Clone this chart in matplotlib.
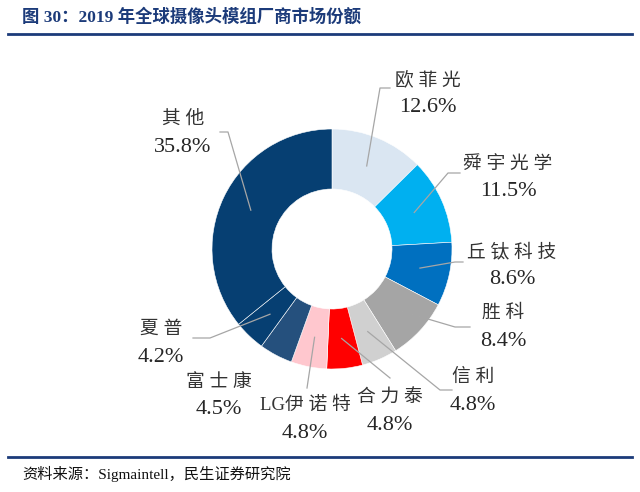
import matplotlib.pyplot as plt
import numpy as np

# market share, clockwise from 12 o'clock
vendors = ["欧菲光", "舜宇光学", "丘钛科技", "胜科", "信利", "合力泰",
           "LG伊诺特", "富士康", "夏普", "其他"]
shares = [12.6, 11.5, 8.6, 8.4, 4.8, 4.8, 4.8, 4.5, 4.2, 35.8]
colors = ["#DAE6F2", "#00B0F0", "#0070C0", "#A5A5A5", "#D0D0D0", "#FF0000",
          "#FFC7CE", "#25507D", "#063F72", "#063F72"]

# label text centre (pixels from top-left) and leader elbow / end points
label_pos = {
    "欧菲光": (428, 94), "舜宇光学": (508, 178), "丘钛科技": (512, 266),
    "胜科": (503, 327), "信利": (473, 391), "合力泰": (390, 411),
    "LG伊诺特": (305, 419), "富士康": (219, 396), "夏普": (161, 343),
    "其他": (183, 133),
}
leader = {
    "欧菲光": [(380, 88), (390, 88)], "舜宇光学": [(448, 173), (460, 173)],
    "丘钛科技": [(455, 262), (463, 262)], "胜科": [(455, 327), (470, 327)],
    "信利": [(440, 390), (452, 390)], "合力泰": [(390, 378)],
    "LG伊诺特": [(307, 388)], "夏普": [(210, 338), (193, 338)],
    "其他": [(228, 132), (220, 132)],
}

W, H = 640, 492
CX, CY, R = 332, 249, 120
FONT = ["Liberation Serif", "Noto Sans CJK SC"]


def spaced(name):
    # loose CJK tracking like the original serif font
    out = ""
    for i, ch in enumerate(name):
        if i and ord(ch) > 0x2E80 and ord(name[i - 1]) > 0x2E80:
            out += " "
        out += ch
    return out


fig = plt.figure(figsize=(6.4, 4.92), dpi=100)
ax = fig.add_axes([0, 0, 1, 1])

wedges, _ = ax.pie(
    shares, colors=colors, startangle=90, counterclock=False,
    center=(CX, H - CY), radius=R, frame=True,
    wedgeprops=dict(width=R * 0.5, edgecolor="white", linewidth=0.4),
)
ax.set_xlim(0, W)
ax.set_ylim(0, H)
ax.set_aspect("equal")
ax.axis("off")

for w, name, val in zip(wedges, vendors, shares):
    mid = np.deg2rad((w.theta1 + w.theta2) / 2)
    sx = CX + 0.75 * R * np.cos(mid)
    sy = CY - 0.75 * R * np.sin(mid)
    if name in leader:
        pts = [(sx, sy)] + leader[name]
        xs = [p[0] for p in pts]
        ys = [H - p[1] for p in pts]
        ax.plot(xs, ys, color="#A6A6A6", lw=0.9, zorder=3)
    tx, ty = label_pos[name]
    ax.text(tx, H - (ty - 14), spaced(name), ha="center", va="center",
            fontsize=13.5, family=FONT, color="#333333")
    ax.text(tx, H - (ty + 14), f"{val:.1f}%", ha="center", va="center",
            fontsize=16, family=FONT, color="#262626")

fig.text(22 / W, 1 - 17 / H, "图 30：2019 年全球摄像头模组厂商市场份额",
         family=FONT, fontsize=12.5, fontweight="bold", color="#1C3B7A",
         ha="left", va="center")
ax.plot([8, 632], [H - 34, H - 34], color="#1C3B7A", lw=2)
ax.plot([8, 632], [H - 457, H - 457], color="#1C3B7A", lw=2)
fig.text(22 / W, 1 - 474 / H, "资料来源：Sigmaintell，民生证券研究院",
         family=FONT, fontsize=11, color="#111111", ha="left", va="center")

fig.savefig("out.png", dpi=100)
